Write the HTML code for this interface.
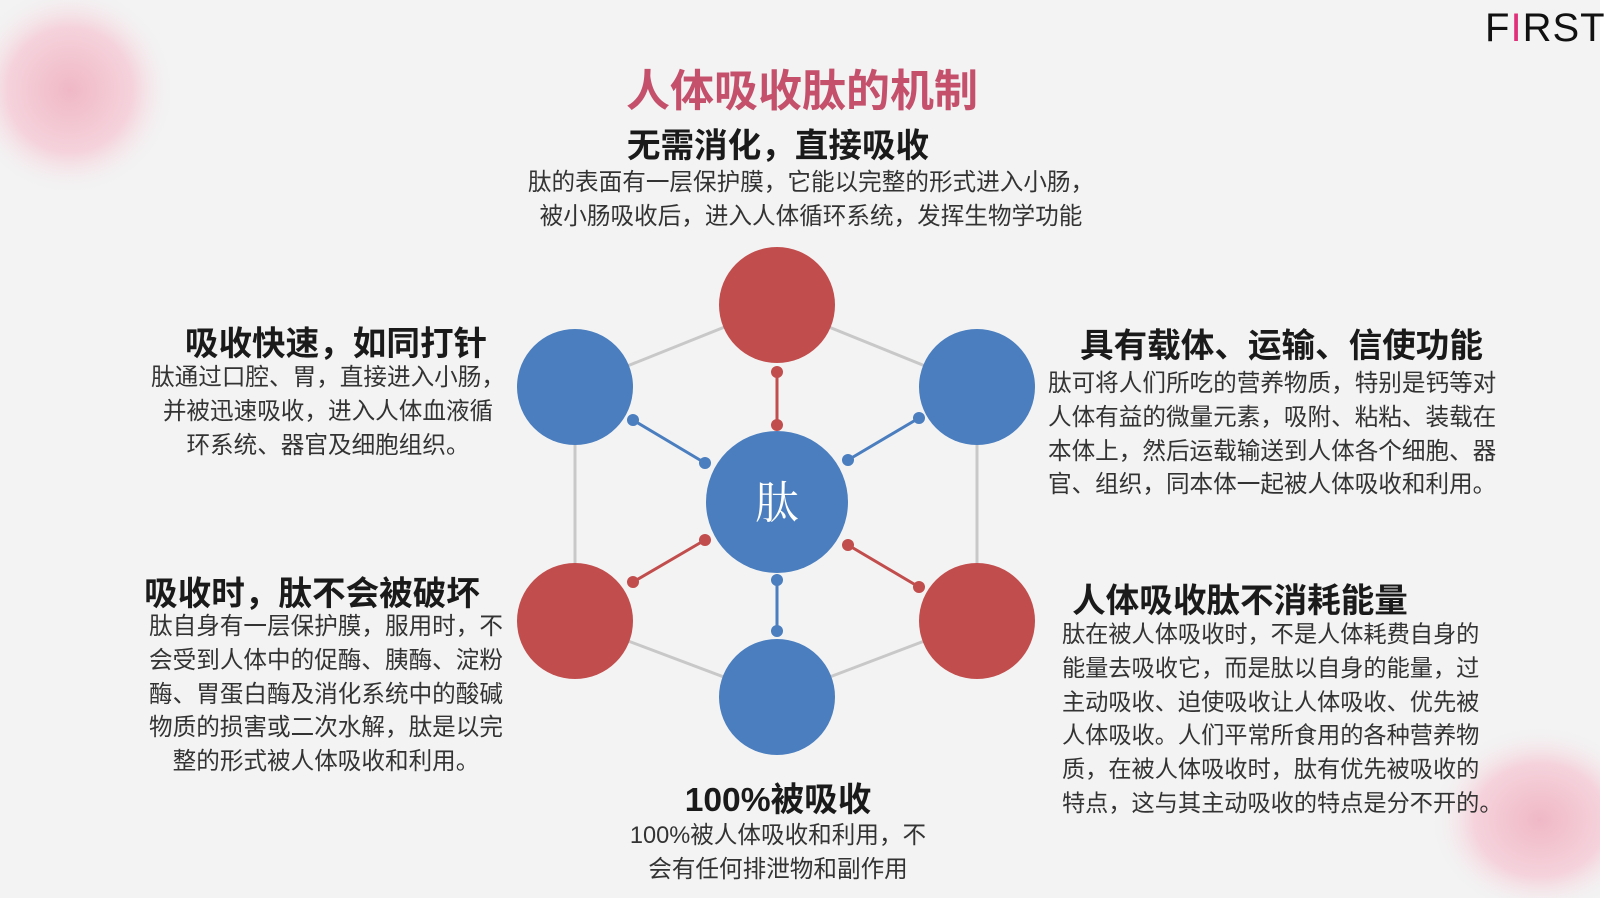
<!DOCTYPE html>
<html><head><meta charset="utf-8"><style>
html,body{margin:0;padding:0}
body{width:1606px;height:898px;position:relative;overflow:hidden;background:#f3f3f3;font-family:"Liberation Sans","Noto Sans CJK SC",sans-serif;color:#222}
.t{position:absolute;white-space:nowrap;text-align:center}
.h{font-weight:bold;font-size:33.6px;color:#1a1a1a}
.b{font-size:23.6px;line-height:33.8px;color:#333}
</style></head><body>
<svg width="1606" height="898" style="position:absolute;left:0;top:0">
<defs>
<radialGradient id="pk" cx="50%" cy="50%" r="50%">
<stop offset="0" stop-color="#f0b8c6"/><stop offset="0.6" stop-color="#f5d3dc"/><stop offset="1" stop-color="#f3f3f3" stop-opacity="0"/></radialGradient>
</defs>
<ellipse cx="70" cy="90" rx="105" ry="105" fill="url(#pk)"/>
<ellipse cx="1540" cy="820" rx="110" ry="95" fill="url(#pk)"/>
<rect x="1600" y="0" width="6" height="898" fill="#fff"/>
<g stroke="#c8c8c8" stroke-width="3">
<line x1="777" y1="306" x2="575" y2="387"/><line x1="777" y1="306" x2="977" y2="387"/>
<line x1="575" y1="387" x2="575" y2="621"/><line x1="977" y1="387" x2="977" y2="621"/>
<line x1="575" y1="621" x2="777" y2="697"/><line x1="977" y1="621" x2="777" y2="697"/>
</g>
<g stroke-width="3">
<line x1="777" y1="372" x2="777" y2="425" stroke="#c24d4d"/>
<line x1="633" y1="420" x2="705" y2="463" stroke="#4a7ebf"/>
<line x1="919" y1="418" x2="848" y2="460" stroke="#4a7ebf"/>
<line x1="633" y1="582" x2="705" y2="540" stroke="#c24d4d"/>
<line x1="919" y1="587" x2="848" y2="545" stroke="#c24d4d"/>
<line x1="777" y1="580" x2="777" y2="631" stroke="#4a7ebf"/>
</g>
<g fill="#c24d4d"><circle cx="777" cy="372" r="6"/><circle cx="777" cy="425" r="6"/><circle cx="633" cy="582" r="6"/><circle cx="705" cy="540" r="6"/><circle cx="919" cy="587" r="6"/><circle cx="848" cy="545" r="6"/></g>
<g fill="#4a7ebf"><circle cx="633" cy="420" r="6"/><circle cx="705" cy="463" r="6"/><circle cx="919" cy="418" r="6"/><circle cx="848" cy="460" r="6"/><circle cx="777" cy="580" r="6"/><circle cx="777" cy="631" r="6"/></g>
<circle cx="777" cy="305" r="58" fill="#c24d4d"/>
<circle cx="575" cy="387" r="58" fill="#4a7ebf"/>
<circle cx="977" cy="387" r="58" fill="#4a7ebf"/>
<circle cx="575" cy="621" r="58" fill="#c24d4d"/>
<circle cx="977" cy="621" r="58" fill="#c24d4d"/>
<circle cx="777" cy="697" r="58" fill="#4a7ebf"/>
<circle cx="777" cy="502" r="71" fill="#4a7ebf"/>
<text x="777" y="518" text-anchor="middle" font-size="44" fill="#fff" font-family="Noto Serif CJK SC, serif">肽</text>
</svg>
<div class="t" style="left:1485px;top:6px;font-size:40px;letter-spacing:1px;color:#111;font-family:'Liberation Sans',sans-serif">F<span style="color:#e0307a">I</span>RST</div>
<div class="t" style="left:552px;top:55px;width:500px;font-size:44px;font-weight:bold;color:#c4506c">人体吸收肽的机制</div>
<div class="t h" style="left:578px;top:118px;width:400px">无需消化，直接吸收</div>
<div class="t b" style="left:511px;top:167px;width:600px">肽的表面有一层保护膜，它能以完整的形式进入小肠，<br>被小肠吸收后，进入人体循环系统，发挥生物学功能</div>
<div class="t h" style="left:136px;top:316px;width:400px">吸收快速，如同打针</div>
<div class="t b" style="left:128px;top:362px;width:400px">肽通过口腔、胃，直接进入小肠，<br>并被迅速吸收，进入人体血液循<br>环系统、器官及细胞组织。</div>
<div class="t h" style="left:112px;top:566px;width:400px">吸收时，肽不会被破坏</div>
<div class="t b" style="left:126px;top:611px;width:400px">肽自身有一层保护膜，服用时，不<br>会受到人体中的促酶、胰酶、淀粉<br>酶、胃蛋白酶及消化系统中的酸碱<br>物质的损害或二次水解，肽是以完<br>整的形式被人体吸收和利用。</div>
<div class="t h" style="left:1080px;top:318px;width:400px">具有载体、运输、信使功能</div>
<div class="t b" style="left:1048px;top:368px;width:460px;text-align:left">肽可将人们所吃的营养物质，特别是钙等对<br>人体有益的微量元素，吸附、粘粘、装载在<br>本体上，然后运载输送到人体各个细胞、器<br>官、组织，同本体一起被人体吸收和利用。</div>
<div class="t h" style="left:1040px;top:573px;width:400px">人体吸收肽不消耗能量</div>
<div class="t b" style="left:1062px;top:618px;width:450px;text-align:left;font-size:23.2px">肽在被人体吸收时，不是人体耗费自身的<br>能量去吸收它，而是肽以自身的能量，过<br>主动吸收、迫使吸收让人体吸收、优先被<br>人体吸收。人们平常所食用的各种营养物<br>质，在被人体吸收时，肽有优先被吸收的<br>特点，这与其主动吸收的特点是分不开的。</div>
<div class="t h" style="left:578px;top:772px;width:400px">100%被吸收</div>
<div class="t b" style="left:578px;top:820px;width:400px">100%被人体吸收和利用，不<br>会有任何排泄物和副作用</div>
</body></html>
